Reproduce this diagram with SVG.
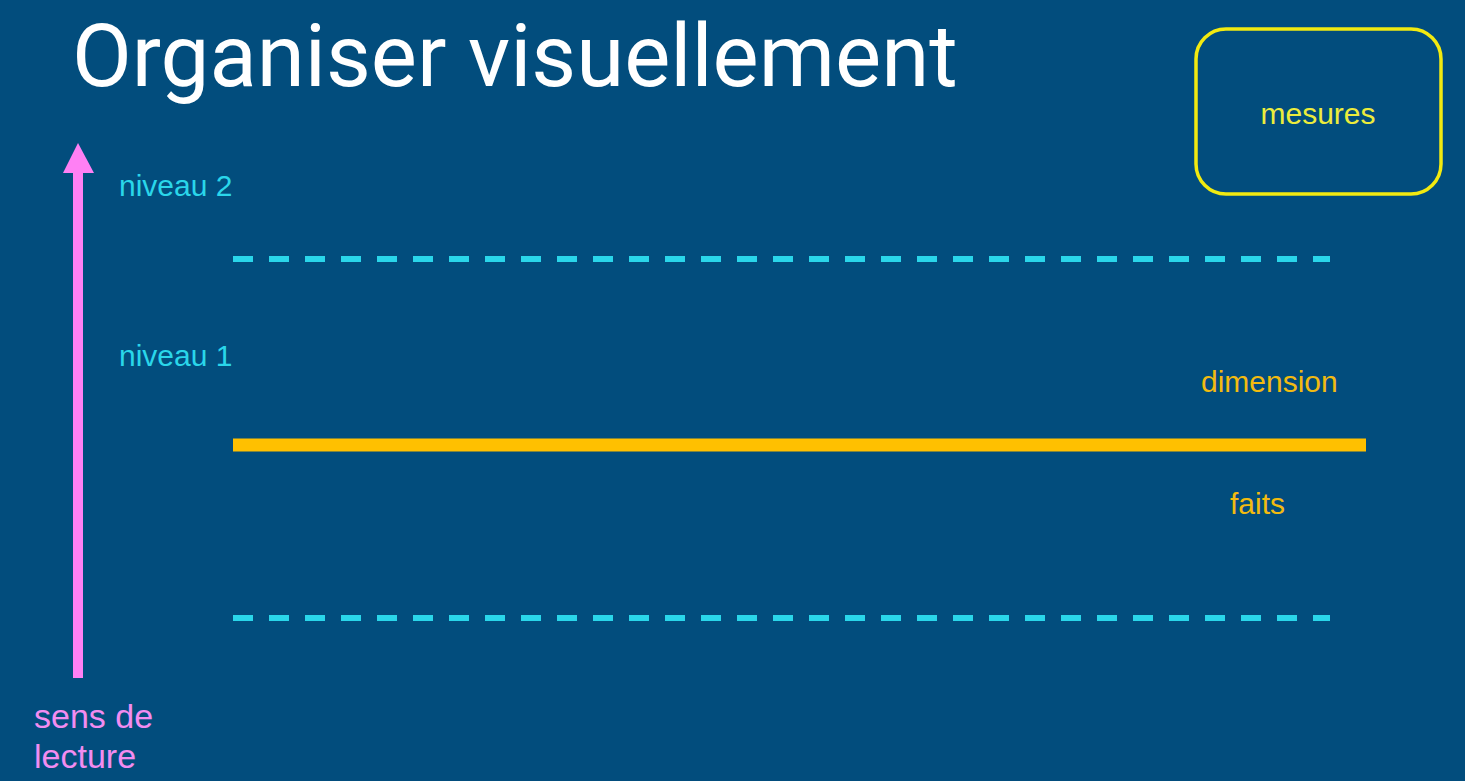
<svg xmlns="http://www.w3.org/2000/svg" width="1465" height="781" viewBox="0 0 1465 781">
<style>
.lbl{font-family:"Liberation Sans",Arial,sans-serif;font-size:30px}
.big{font-size:34px}
.cyan{fill:#2ad6ea}
.dash{stroke:#2ad6ea;stroke-width:6;stroke-dasharray:20 16;fill:none}
</style>
<rect width="1465" height="781" fill="#024d7d"/>
<text id="title" x="72" y="86" font-family="Roboto,sans-serif" font-size="87" fill="#ffffff">Organiser visuellement</text>
<g id="mesures">
<rect x="1196" y="29" width="245" height="165" rx="30" fill="none" stroke="#f2ea10" stroke-width="3.5"/>
<text class="lbl" x="1318" y="124" text-anchor="middle" fill="#ecec3c">mesures</text>
</g>
<g id="arrow">
<rect x="73" y="170" width="10" height="508" fill="#ff80f4"/>
<polygon points="63,173 78,143 94,173" fill="#ff80f4"/>
<text class="lbl big" x="34" y="728" fill="#f28cf0">sens de</text>
<text class="lbl big" x="34" y="768" fill="#f28cf0">lecture</text>
</g>
<g id="niveau2"><text class="lbl cyan" x="119" y="196">niveau 2</text></g>
<g id="niveau1"><text class="lbl cyan" x="119" y="366">niveau 1</text></g>
<g id="connectors">
<line class="dash" x1="233" y1="259" x2="1330" y2="259"/>
<line class="dash" x1="233" y1="618" x2="1330" y2="618"/>
<line x1="233" y1="445" x2="1366" y2="445" stroke="#ffc000" stroke-width="13"/>
</g>
<g id="dimension"><text class="lbl" x="1201" y="392" fill="#f2bb10">dimension</text></g>
<g id="faits"><text class="lbl" x="1230" y="514" fill="#f2bb10">faits</text></g>
</svg>
